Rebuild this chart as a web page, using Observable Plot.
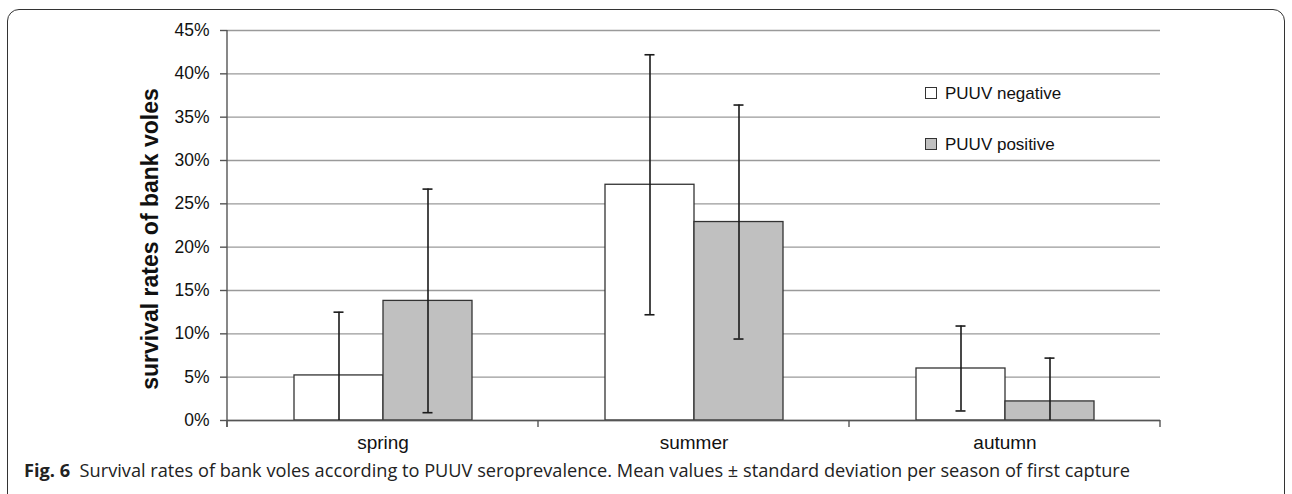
<!DOCTYPE html>
<html><head><meta charset="utf-8">
<script src="https://cdn.jsdelivr.net/npm/d3@7"></script>
<script src="https://cdn.jsdelivr.net/npm/@observablehq/plot@0.6"></script>
<style>
html,body{margin:0;padding:0;background:#fff;}
#wrap{position:relative;width:1292px;height:494px;overflow:hidden;background:#fff;}
#frame{position:absolute;left:7px;top:9px;width:1278px;height:540px;border:1.3px solid #333;border-radius:12px;box-sizing:border-box;}
#chart{position:absolute;left:0;top:0;}
#chart svg{overflow:visible;}
#ytitle{position:absolute;left:-50px;top:225px;width:400px;height:28px;line-height:28px;text-align:center;
  font-family:"Liberation Sans",Arial,sans-serif;font-weight:bold;font-size:23px;color:#111;transform:rotate(-90deg);transform-origin:center;}
.lg{position:absolute;font-family:"Liberation Sans",Arial,sans-serif;font-size:17px;line-height:20px;color:#111;white-space:nowrap;}
.sw{position:absolute;width:12px;height:12px;border:1.2px solid #333;box-sizing:border-box;}
#caption{position:absolute;left:24px;top:459px;font-family:"Open Sans",sans-serif;font-size:18.2px;line-height:22px;color:#222;white-space:nowrap;}
</style></head><body>
<div id="wrap">
<div id="frame"></div>
<div id="chart"></div>
<div id="ytitle">survival rates of bank voles</div>
<div id="caption"><b>Fig. 6</b>&nbsp; Survival rates of bank voles according to PUUV seroprevalence. Mean values ± standard deviation per season of first capture</div>
</div>
<script>
const seasons = ["spring", "summer", "autumn"];
const groups = ["PUUV negative", "PUUV positive"];
const groupColors = ["#ffffff", "#c0c0c0"];
const negMean = [5.2, 27.2, 6.0];
const negSD = [7.3, 15.0, 4.9];
const posMean = [13.8, 22.9, 2.2];
const posSD = [12.9, 13.5, 5.0];
const yTicks = [0, 5, 10, 15, 20, 25, 30, 35, 40, 45];

const data = [];
seasons.forEach((s, i) => {
  data.push({season: s, group: groups[0], value: negMean[i], sd: negSD[i]});
  data.push({season: s, group: groups[1], value: posMean[i], sd: posSD[i]});
});
const lo = d => Math.max(0, d.value - d.sd);
const hi = d => d.value + d.sd;

const font = "'Liberation Sans', Arial, sans-serif";
const plot = Plot.plot({
  width: 1292,
  height: 455,
  marginTop: 30,
  marginBottom: 35,
  marginLeft: 227,
  marginRight: 132,
  style: {fontFamily: font, fontSize: "17px", color: "#111", background: "transparent"},
  fx: {domain: seasons, paddingInner: 0, paddingOuter: 0, label: null, axis: null},
  x: {domain: groups, paddingInner: 0, paddingOuter: 0.745, axis: null, label: null},
  y: {domain: [0, 45], label: null, axis: null},
  color: {domain: groups, range: groupColors},
  marks: [
    Plot.gridY(yTicks, {stroke: "#9a9a9a", strokeOpacity: 1, strokeWidth: 1.4}),
    Plot.axisY({ticks: yTicks, tickFormat: d => d + "%", tickSize: 7, tickPadding: 11, stroke: "#555", strokeWidth: 1.4, fontSize: 17.5, label: null}),
    Plot.axisFx({anchor: "bottom", tickSize: 0, tickPadding: 15, fontSize: 19, label: null}),
    Plot.barY(data, {fx: "season", x: "group", y: "value", fill: "group", stroke: "#333", strokeWidth: 1.3}),
    Plot.ruleY([0], {stroke: "#555", strokeWidth: 1.6}),
    Plot.ruleX(data, {fx: "season", x: "group", y1: lo, y2: hi, stroke: "#1a1a1a", strokeWidth: 1.6}),
    Plot.tickY(data, {fx: "season", x: "group", y: hi, stroke: "#1a1a1a", strokeWidth: 1.6, insetLeft: 39.5, insetRight: 39.5}),
    Plot.tickY(data.filter(d => d.value - d.sd > 0), {fx: "season", x: "group", y: lo, stroke: "#1a1a1a", strokeWidth: 1.6, insetLeft: 39.5, insetRight: 39.5})
  ]
});
document.getElementById("chart").appendChild(plot);

// axis line and category boundary ticks, positioned via the plot's own scales
const fxs = plot.scale("fx");
const ys = plot.scale("y");
const svg = d3.select(plot);
const y0 = ys.apply(0), yTop = ys.apply(45);
const bounds = seasons.map(s => fxs.apply(s)).concat([fxs.apply(seasons[seasons.length - 1]) + fxs.bandwidth]);
const g = svg.append("g").attr("stroke", "#555").attr("stroke-width", 1.4);
g.append("line").attr("x1", bounds[0]).attr("x2", bounds[0]).attr("y1", yTop).attr("y2", y0 + 7);
bounds.forEach(b => g.append("line").attr("x1", b).attr("x2", b).attr("y1", y0).attr("y2", y0 + 7));

// legend
const wrap = document.getElementById("wrap");
const legendTops = [84, 135];
groups.forEach((gname, i) => {
  const sw = document.createElement("div");
  sw.className = "sw";
  sw.style.left = "925px";
  sw.style.top = (legendTops[i] + 3) + "px";
  sw.style.background = groupColors[i];
  wrap.appendChild(sw);
  const t = document.createElement("div");
  t.className = "lg";
  t.style.left = "945px";
  t.style.top = legendTops[i] + "px";
  t.textContent = gname;
  wrap.appendChild(t);
});
</script>
</body></html>
